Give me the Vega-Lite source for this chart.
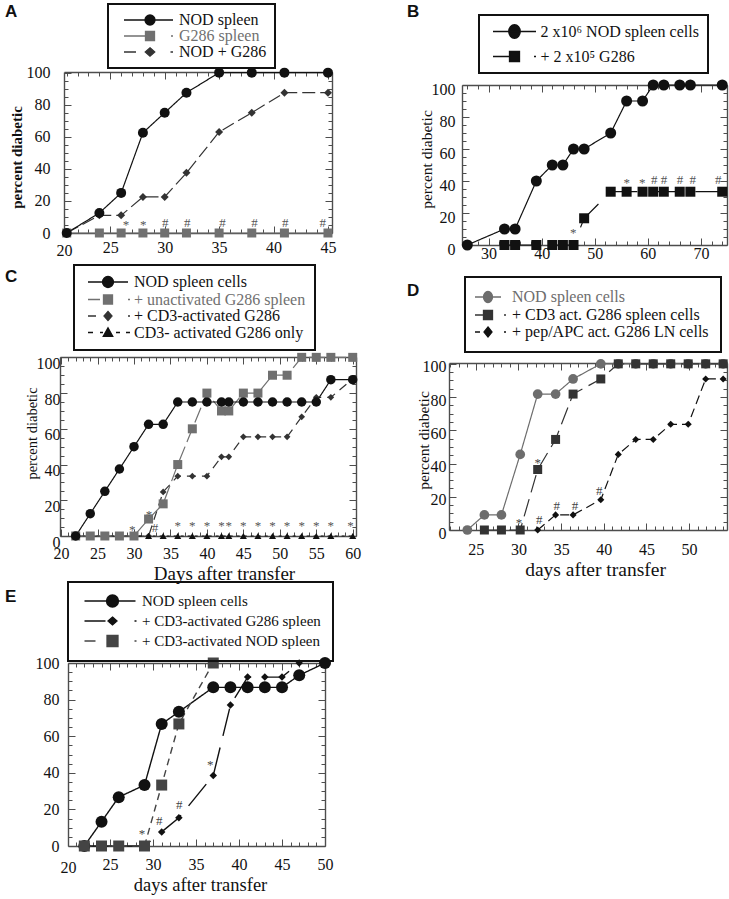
{
"$schema": "https://vega.github.io/schema/vega-lite/v6.json",
"autosize": "none",
"padding": {"left": 60, "top": 72, "right": 669, "bottom": 827},
"background": "white",
"config": {
 "view": {"stroke": null},
 "font": "Liberation Serif",
 "axis": {"grid": false, "labelFont": "Liberation Serif", "labelFontSize": 16, "labelColor": "#111", "domainColor": "#4d4d4d", "domainWidth": 1.4, "tickColor": "#4d4d4d", "tickWidth": 1, "titleFont": "Liberation Serif", "titleFontWeight": "normal", "titleColor": "#111", "labelOverlap": false, "labelFlush": false},
 "legend": {"labelFont": "Liberation Serif", "strokeWidth": 2},
 "text": {"font": "Liberation Serif"}
},
"resolve": {"scale": {"color": "independent", "shape": "independent", "strokeDash": "independent", "size": "independent", "fill": "independent", "stroke": "independent"}, "legend": {"shape": "independent", "color": "independent", "size": "independent", "strokeDash": "independent", "fill": "independent", "stroke": "independent"}},
"datasets": {
 "A": [
  {"series": "G286 spleen", "day": 21, "pct": 0}, {"series": "G286 spleen", "day": 24, "pct": 0}, {"series": "G286 spleen", "day": 26, "pct": 0}, {"series": "G286 spleen", "day": 28, "pct": 0}, {"series": "G286 spleen", "day": 30, "pct": 0}, {"series": "G286 spleen", "day": 32, "pct": 0}, {"series": "G286 spleen", "day": 35, "pct": 0}, {"series": "G286 spleen", "day": 38, "pct": 0}, {"series": "G286 spleen", "day": 41, "pct": 0}, {"series": "G286 spleen", "day": 45, "pct": 0},
  {"series": "NOD + G286", "day": 21, "pct": 0}, {"series": "NOD + G286", "day": 24, "pct": 11}, {"series": "NOD + G286", "day": 26, "pct": 11}, {"series": "NOD + G286", "day": 28, "pct": 22.5}, {"series": "NOD + G286", "day": 30, "pct": 22.5}, {"series": "NOD + G286", "day": 32, "pct": 37.5}, {"series": "NOD + G286", "day": 35, "pct": 63}, {"series": "NOD + G286", "day": 38, "pct": 75}, {"series": "NOD + G286", "day": 41, "pct": 87.5}, {"series": "NOD + G286", "day": 45, "pct": 87.5},
  {"series": "NOD spleen", "day": 21, "pct": 0}, {"series": "NOD spleen", "day": 24, "pct": 12.5}, {"series": "NOD spleen", "day": 26, "pct": 25}, {"series": "NOD spleen", "day": 28, "pct": 62.5}, {"series": "NOD spleen", "day": 30, "pct": 75}, {"series": "NOD spleen", "day": 32, "pct": 87.5}, {"series": "NOD spleen", "day": 35, "pct": 100}, {"series": "NOD spleen", "day": 38, "pct": 100}, {"series": "NOD spleen", "day": 41, "pct": 100}, {"series": "NOD spleen", "day": 45, "pct": 100}
 ],
 "Aann": [
  {"day": 26.44, "pct": 5, "mk": "*"}, {"day": 28.03, "pct": 5, "mk": "*"}, {"day": 30.06, "pct": 6.3, "mk": "#"}, {"day": 32.08, "pct": 6.3, "mk": "#"}, {"day": 35.3, "pct": 6.3, "mk": "#"}, {"day": 38.26, "pct": 6.3, "mk": "#"}, {"day": 41.08, "pct": 6.3, "mk": "#"}, {"day": 44.53, "pct": 6.3, "mk": "#"}
 ],
 "B": [
  {"series": "2 x10⁶ NOD spleen cells", "day": 26, "pct": 0}, {"series": "2 x10⁶ NOD spleen cells", "day": 33, "pct": 10}, {"series": "2 x10⁶ NOD spleen cells", "day": 35, "pct": 10}, {"series": "2 x10⁶ NOD spleen cells", "day": 39, "pct": 40}, {"series": "2 x10⁶ NOD spleen cells", "day": 42, "pct": 50}, {"series": "2 x10⁶ NOD spleen cells", "day": 44, "pct": 50}, {"series": "2 x10⁶ NOD spleen cells", "day": 46, "pct": 60}, {"series": "2 x10⁶ NOD spleen cells", "day": 48, "pct": 60}, {"series": "2 x10⁶ NOD spleen cells", "day": 53, "pct": 70}, {"series": "2 x10⁶ NOD spleen cells", "day": 56, "pct": 90}, {"series": "2 x10⁶ NOD spleen cells", "day": 59, "pct": 90}, {"series": "2 x10⁶ NOD spleen cells", "day": 61, "pct": 100}, {"series": "2 x10⁶ NOD spleen cells", "day": 63, "pct": 100}, {"series": "2 x10⁶ NOD spleen cells", "day": 66, "pct": 100}, {"series": "2 x10⁶ NOD spleen cells", "day": 68, "pct": 100}, {"series": "2 x10⁶ NOD spleen cells", "day": 74, "pct": 100},
  {"series": "+ 2 x10⁵ G286", "day": 33, "pct": 0}, {"series": "+ 2 x10⁵ G286", "day": 35, "pct": 0}, {"series": "+ 2 x10⁵ G286", "day": 39, "pct": 0}, {"series": "+ 2 x10⁵ G286", "day": 42, "pct": 0}, {"series": "+ 2 x10⁵ G286", "day": 44, "pct": 0}, {"series": "+ 2 x10⁵ G286", "day": 46, "pct": 0}, {"series": "+ 2 x10⁵ G286", "day": 48, "pct": 16.7}, {"series": "+ 2 x10⁵ G286", "day": 53, "pct": 33.3}, {"series": "+ 2 x10⁵ G286", "day": 56, "pct": 33.3}, {"series": "+ 2 x10⁵ G286", "day": 59, "pct": 33.3}, {"series": "+ 2 x10⁵ G286", "day": 61, "pct": 33.3}, {"series": "+ 2 x10⁵ G286", "day": 63, "pct": 33.3}, {"series": "+ 2 x10⁵ G286", "day": 66, "pct": 33.3}, {"series": "+ 2 x10⁵ G286", "day": 68, "pct": 33.3}, {"series": "+ 2 x10⁵ G286", "day": 74, "pct": 33.3}
 ],
 "Bann": [
  {"day": 45.95, "pct": 7.5, "mk": "*"}, {"day": 56, "pct": 38.5, "mk": "*"}, {"day": 58.94, "pct": 38.5, "mk": "*"}, {"day": 61.2, "pct": 40.6, "mk": "#"}, {"day": 63.03, "pct": 40.6, "mk": "#"}, {"day": 66.04, "pct": 40.6, "mk": "#"}, {"day": 68.43, "pct": 40.6, "mk": "#"}, {"day": 73.25, "pct": 40.6, "mk": "#"}
 ],
 "C": [
  {"series": "+ CD3-activated G286", "day": 22, "pct": 0}, {"series": "+ CD3-activated G286", "day": 24, "pct": 0}, {"series": "+ CD3-activated G286", "day": 26, "pct": 0}, {"series": "+ CD3-activated G286", "day": 28, "pct": 0}, {"series": "+ CD3-activated G286", "day": 30, "pct": 0}, {"series": "+ CD3-activated G286", "day": 32, "pct": 0}, {"series": "+ CD3-activated G286", "day": 34, "pct": 24.7}, {"series": "+ CD3-activated G286", "day": 36, "pct": 33.5}, {"series": "+ CD3-activated G286", "day": 38, "pct": 33.5}, {"series": "+ CD3-activated G286", "day": 40, "pct": 33.5}, {"series": "+ CD3-activated G286", "day": 42, "pct": 44.3}, {"series": "+ CD3-activated G286", "day": 43, "pct": 44.3}, {"series": "+ CD3-activated G286", "day": 45, "pct": 55.5}, {"series": "+ CD3-activated G286", "day": 47, "pct": 55.5}, {"series": "+ CD3-activated G286", "day": 49, "pct": 55.5}, {"series": "+ CD3-activated G286", "day": 51, "pct": 55.5}, {"series": "+ CD3-activated G286", "day": 53, "pct": 66.7}, {"series": "+ CD3-activated G286", "day": 55, "pct": 77.6}, {"series": "+ CD3-activated G286", "day": 57, "pct": 77.6}, {"series": "+ CD3-activated G286", "day": 60, "pct": 88},
  {"series": "CD3- activated G286 only", "day": 22, "pct": 0}, {"series": "CD3- activated G286 only", "day": 24, "pct": 0}, {"series": "CD3- activated G286 only", "day": 26, "pct": 0}, {"series": "CD3- activated G286 only", "day": 28, "pct": 0}, {"series": "CD3- activated G286 only", "day": 30, "pct": 0}, {"series": "CD3- activated G286 only", "day": 32, "pct": 0}, {"series": "CD3- activated G286 only", "day": 34, "pct": 0}, {"series": "CD3- activated G286 only", "day": 36, "pct": 0}, {"series": "CD3- activated G286 only", "day": 38, "pct": 0}, {"series": "CD3- activated G286 only", "day": 40, "pct": 0}, {"series": "CD3- activated G286 only", "day": 42, "pct": 0}, {"series": "CD3- activated G286 only", "day": 43, "pct": 0}, {"series": "CD3- activated G286 only", "day": 45, "pct": 0}, {"series": "CD3- activated G286 only", "day": 47, "pct": 0}, {"series": "CD3- activated G286 only", "day": 49, "pct": 0}, {"series": "CD3- activated G286 only", "day": 51, "pct": 0}, {"series": "CD3- activated G286 only", "day": 53, "pct": 0}, {"series": "CD3- activated G286 only", "day": 55, "pct": 0}, {"series": "CD3- activated G286 only", "day": 57, "pct": 0}, {"series": "CD3- activated G286 only", "day": 60, "pct": 0},
  {"series": "+ unactivated G286 spleen", "day": 22, "pct": 0}, {"series": "+ unactivated G286 spleen", "day": 24, "pct": 0}, {"series": "+ unactivated G286 spleen", "day": 26, "pct": 0}, {"series": "+ unactivated G286 spleen", "day": 28, "pct": 0}, {"series": "+ unactivated G286 spleen", "day": 30, "pct": 0}, {"series": "+ unactivated G286 spleen", "day": 32, "pct": 9.5}, {"series": "+ unactivated G286 spleen", "day": 34, "pct": 18}, {"series": "+ unactivated G286 spleen", "day": 36, "pct": 40}, {"series": "+ unactivated G286 spleen", "day": 38, "pct": 60}, {"series": "+ unactivated G286 spleen", "day": 40, "pct": 80}, {"series": "+ unactivated G286 spleen", "day": 42, "pct": 70}, {"series": "+ unactivated G286 spleen", "day": 43, "pct": 70}, {"series": "+ unactivated G286 spleen", "day": 45, "pct": 80}, {"series": "+ unactivated G286 spleen", "day": 47, "pct": 80}, {"series": "+ unactivated G286 spleen", "day": 49, "pct": 90}, {"series": "+ unactivated G286 spleen", "day": 51, "pct": 90}, {"series": "+ unactivated G286 spleen", "day": 53, "pct": 100}, {"series": "+ unactivated G286 spleen", "day": 55, "pct": 100}, {"series": "+ unactivated G286 spleen", "day": 57, "pct": 100}, {"series": "+ unactivated G286 spleen", "day": 60, "pct": 100},
  {"series": "NOD spleen cells", "day": 22, "pct": 0}, {"series": "NOD spleen cells", "day": 24, "pct": 12.5}, {"series": "NOD spleen cells", "day": 26, "pct": 25}, {"series": "NOD spleen cells", "day": 28, "pct": 37.5}, {"series": "NOD spleen cells", "day": 30, "pct": 50}, {"series": "NOD spleen cells", "day": 32, "pct": 62.5}, {"series": "NOD spleen cells", "day": 34, "pct": 62.5}, {"series": "NOD spleen cells", "day": 36, "pct": 75}, {"series": "NOD spleen cells", "day": 38, "pct": 75}, {"series": "NOD spleen cells", "day": 40, "pct": 75}, {"series": "NOD spleen cells", "day": 42, "pct": 75}, {"series": "NOD spleen cells", "day": 43, "pct": 75}, {"series": "NOD spleen cells", "day": 45, "pct": 75}, {"series": "NOD spleen cells", "day": 47, "pct": 75}, {"series": "NOD spleen cells", "day": 49, "pct": 75}, {"series": "NOD spleen cells", "day": 51, "pct": 75}, {"series": "NOD spleen cells", "day": 53, "pct": 75}, {"series": "NOD spleen cells", "day": 55, "pct": 75}, {"series": "NOD spleen cells", "day": 57, "pct": 87.5}, {"series": "NOD spleen cells", "day": 60, "pct": 87.5}
 ],
 "Cann": [
  {"day": 29.76, "pct": 3.5, "mk": "*"}, {"day": 32.05, "pct": 11.9, "mk": "*"}, {"day": 32.88, "pct": 4.3, "mk": "#"},
  {"day": 36, "pct": 5.4, "mk": "*"}, {"day": 38, "pct": 5.4, "mk": "*"}, {"day": 40, "pct": 5.4, "mk": "*"}, {"day": 42, "pct": 5.4, "mk": "*"}, {"day": 43, "pct": 5.4, "mk": "*"}, {"day": 45, "pct": 5.4, "mk": "*"}, {"day": 47, "pct": 5.4, "mk": "*"}, {"day": 49, "pct": 5.4, "mk": "*"}, {"day": 51, "pct": 5.4, "mk": "*"}, {"day": 53, "pct": 5.4, "mk": "*"}, {"day": 55, "pct": 5.4, "mk": "*"}, {"day": 57, "pct": 5.4, "mk": "*"}, {"day": 59.7, "pct": 5.4, "mk": "*"}
 ],
 "D": [
  {"series": "NOD spleen cells", "day": 24, "pct": 0}, {"series": "NOD spleen cells", "day": 26, "pct": 9.1}, {"series": "NOD spleen cells", "day": 28, "pct": 9.1}, {"series": "NOD spleen cells", "day": 30.2, "pct": 45.5}, {"series": "NOD spleen cells", "day": 32.25, "pct": 81.8}, {"series": "NOD spleen cells", "day": 34.35, "pct": 81.8}, {"series": "NOD spleen cells", "day": 36.4, "pct": 90.9}, {"series": "NOD spleen cells", "day": 39.65, "pct": 100}, {"series": "NOD spleen cells", "day": 41.7, "pct": 100}, {"series": "NOD spleen cells", "day": 43.75, "pct": 100}, {"series": "NOD spleen cells", "day": 45.8, "pct": 100}, {"series": "NOD spleen cells", "day": 47.85, "pct": 100}, {"series": "NOD spleen cells", "day": 49.9, "pct": 100}, {"series": "NOD spleen cells", "day": 51.95, "pct": 100}, {"series": "NOD spleen cells", "day": 54, "pct": 100},
  {"series": "+ CD3 act. G286 spleen cells", "day": 26, "pct": 0}, {"series": "+ CD3 act. G286 spleen cells", "day": 28, "pct": 0}, {"series": "+ CD3 act. G286 spleen cells", "day": 30.2, "pct": 0}, {"series": "+ CD3 act. G286 spleen cells", "day": 32.25, "pct": 36.4}, {"series": "+ CD3 act. G286 spleen cells", "day": 34.35, "pct": 54.5}, {"series": "+ CD3 act. G286 spleen cells", "day": 36.4, "pct": 81.8}, {"series": "+ CD3 act. G286 spleen cells", "day": 39.65, "pct": 90.9}, {"series": "+ CD3 act. G286 spleen cells", "day": 41.7, "pct": 100}, {"series": "+ CD3 act. G286 spleen cells", "day": 43.75, "pct": 100}, {"series": "+ CD3 act. G286 spleen cells", "day": 45.8, "pct": 100}, {"series": "+ CD3 act. G286 spleen cells", "day": 47.85, "pct": 100}, {"series": "+ CD3 act. G286 spleen cells", "day": 49.9, "pct": 100}, {"series": "+ CD3 act. G286 spleen cells", "day": 51.95, "pct": 100}, {"series": "+ CD3 act. G286 spleen cells", "day": 54, "pct": 100},
  {"series": "+ pep/APC act. G286 LN cells", "day": 32.25, "pct": 0}, {"series": "+ pep/APC act. G286 LN cells", "day": 34.35, "pct": 9.1}, {"series": "+ pep/APC act. G286 LN cells", "day": 36.4, "pct": 9.1}, {"series": "+ pep/APC act. G286 LN cells", "day": 39.65, "pct": 18.2}, {"series": "+ pep/APC act. G286 LN cells", "day": 41.7, "pct": 45.5}, {"series": "+ pep/APC act. G286 LN cells", "day": 43.75, "pct": 54.5}, {"series": "+ pep/APC act. G286 LN cells", "day": 45.8, "pct": 54.5}, {"series": "+ pep/APC act. G286 LN cells", "day": 47.85, "pct": 63.6}, {"series": "+ pep/APC act. G286 LN cells", "day": 49.9, "pct": 63.6}, {"series": "+ pep/APC act. G286 LN cells", "day": 51.95, "pct": 90.9}, {"series": "+ pep/APC act. G286 LN cells", "day": 54, "pct": 90.9}
 ],
 "Dann": [
  {"day": 30.06, "pct": 4.5, "mk": "*"}, {"day": 32.25, "pct": 40.5, "mk": "*"}, {"day": 32.44, "pct": 6.2, "mk": "#"}, {"day": 34.48, "pct": 14.2, "mk": "#"}, {"day": 36.63, "pct": 14.2, "mk": "#"}, {"day": 39.47, "pct": 23.6, "mk": "#"}
 ],
 "E": [
  {"series": "+ CD3-activated G286 spleen", "day": 22, "pct": 0}, {"series": "+ CD3-activated G286 spleen", "day": 24, "pct": 0}, {"series": "+ CD3-activated G286 spleen", "day": 26, "pct": 0}, {"series": "+ CD3-activated G286 spleen", "day": 29, "pct": 0}, {"series": "+ CD3-activated G286 spleen", "day": 31, "pct": 7.7}, {"series": "+ CD3-activated G286 spleen", "day": 33, "pct": 15.4}, {"series": "+ CD3-activated G286 spleen", "day": 37, "pct": 38.5}, {"series": "+ CD3-activated G286 spleen", "day": 39, "pct": 77}, {"series": "+ CD3-activated G286 spleen", "day": 41, "pct": 92.3}, {"series": "+ CD3-activated G286 spleen", "day": 43, "pct": 92.3}, {"series": "+ CD3-activated G286 spleen", "day": 45, "pct": 92.3}, {"series": "+ CD3-activated G286 spleen", "day": 47, "pct": 100},
  {"series": "NOD spleen cells", "day": 22, "pct": 0}, {"series": "NOD spleen cells", "day": 24, "pct": 13.3}, {"series": "NOD spleen cells", "day": 26, "pct": 26.7}, {"series": "NOD spleen cells", "day": 29, "pct": 33.3}, {"series": "NOD spleen cells", "day": 31, "pct": 66.7}, {"series": "NOD spleen cells", "day": 33, "pct": 73.3}, {"series": "NOD spleen cells", "day": 37, "pct": 86.7}, {"series": "NOD spleen cells", "day": 39, "pct": 86.7}, {"series": "NOD spleen cells", "day": 41, "pct": 86.7}, {"series": "NOD spleen cells", "day": 43, "pct": 86.7}, {"series": "NOD spleen cells", "day": 45, "pct": 86.7}, {"series": "NOD spleen cells", "day": 47, "pct": 93.3}, {"series": "NOD spleen cells", "day": 50, "pct": 100},
  {"series": "+ CD3-activated NOD spleen", "day": 22, "pct": 0}, {"series": "+ CD3-activated NOD spleen", "day": 24, "pct": 0}, {"series": "+ CD3-activated NOD spleen", "day": 26, "pct": 0}, {"series": "+ CD3-activated NOD spleen", "day": 29, "pct": 0}, {"series": "+ CD3-activated NOD spleen", "day": 31, "pct": 33.3}, {"series": "+ CD3-activated NOD spleen", "day": 33, "pct": 66.7}, {"series": "+ CD3-activated NOD spleen", "day": 37, "pct": 100}
 ],
 "Eann": [
  {"day": 28.7, "pct": 6.3, "mk": "*"}, {"day": 30.71, "pct": 13.4, "mk": "#"}, {"day": 33.04, "pct": 22.6, "mk": "#"}, {"day": 36.64, "pct": 44.2, "mk": "*"}
 ]
},
"columns": 2,
"spacing": {"row": 112, "column": 93},
"bounds": "flush",
"align": "each",
"concat": [
 {
  "width": 272, "height": 161,
  "title": {"text": "A", "anchor": "start", "frame": "group", "dx": -55, "offset": -31, "baseline": "alphabetic", "font": "Liberation Sans", "fontSize": 17, "fontWeight": "bold", "color": "#111"},
  "resolve": {"axis": {"x": "independent", "y": "independent"}},
  "layer": [
   {"data": {"name": "A"}, "mark": {"type": "line", "strokeWidth": 1.2},
    "encoding": {
     "x": {"field": "day", "type": "quantitative", "scale": {"domain": [20.75, 45.37], "range": [4, 272], "nice": false, "zero": false},
      "axis": {"orient": "bottom", "values": [20.75,21,22,23,24,25,26,27,28,29,30,31,32,33,34,35,36,37,38,39,40,41,42,43,44,45], "labelExpr": "datum.value === 20.75 ? '20' : (datum.value % 5 === 0 ? datum.label : '')", "tickSize": {"condition": {"test": "datum.value % 5 === 0", "value": -7}, "value": -4}, "tickOpacity": {"condition": {"test": "datum.value < 20.8", "value": 0}, "value": 1}, "labelPadding": 13, "labelFont": "Liberation Serif", "title": null}},
     "y": {"field": "pct", "type": "quantitative", "scale": {"domain": [0, 100.4], "range": [161, 0], "nice": false, "zero": false},
      "axis": {"orient": "left", "offset": -4, "values": [0,5,10,15,20,25,30,35,40,45,50,55,60,65,70,75,80,85,90,95,100], "labelExpr": "datum.value % 20 === 0 ? datum.label : ''", "tickSize": {"condition": {"test": "datum.value % 20 === 0", "value": -7}, "value": -4}, "labelPadding": 21, "labelFont": "Liberation Serif", "title": "percent diabetic", "titleFont": "Liberation Serif", "titleFontWeight": "bold", "titleFontSize": 15, "titlePadding": 2, "titleY": 85}},
     "color": {"field": "series", "type": "nominal", "scale": {"domain": ["NOD + G286", "G286 spleen", "NOD spleen"], "range": ["#333333", "#707070", "#111111"]}, "legend": null},
     "strokeDash": {"field": "series", "type": "nominal", "scale": {"domain": ["NOD + G286", "G286 spleen", "NOD spleen"], "range": [[13,5],[1,0],[1,0]]}, "legend": null}
    }},
   {"data": {"name": "A"}, "transform": [{"filter": {"field": "series", "equal": "G286 spleen"}}], "mark": {"type": "point", "filled": true, "opacity": 1, "shape": "square", "size": 81, "color": "#707070"},
    "encoding": {
     "x": {"field": "day", "type": "quantitative", "scale": {"domain": [20.75, 45.37], "range": [4, 272], "nice": false, "zero": false},
      "axis": {"orient": "top", "values": [21,22,23,24,25,26,27,28,29,30,31,32,33,34,35,36,37,38,39,40,41,42,43,44,45], "labels": false, "tickSize": {"condition": {"test": "datum.value % 5 === 0", "value": -7}, "value": -4}, "title": null}},
     "y": {"field": "pct", "type": "quantitative", "scale": {"domain": [0, 100.4], "range": [161, 0], "nice": false, "zero": false},
      "axis": {"orient": "right", "values": [0,5,10,15,20,25,30,35,40,45,50,55,60,65,70,75,80,85,90,95,100], "labels": false, "tickSize": {"condition": {"test": "datum.value % 20 === 0", "value": -7}, "value": -4}, "title": null}}
    }},
   {"data": {"name": "A"}, "transform": [{"filter": {"field": "series", "equal": "NOD + G286"}}], "mark": {"type": "point", "filled": true, "opacity": 1, "shape": "diamond", "size": 64, "color": "#333333"},
    "encoding": {
     "x": {"field": "day", "type": "quantitative", "scale": {"domain": [20.75, 45.37], "range": [4, 272], "nice": false, "zero": false}, "axis": null},
     "y": {"field": "pct", "type": "quantitative", "scale": {"domain": [0, 100.4], "range": [161, 0], "nice": false, "zero": false}, "axis": null}
    }},
   {"data": {"name": "A"}, "transform": [{"filter": {"field": "series", "equal": "NOD spleen"}}], "mark": {"type": "point", "filled": true, "opacity": 1, "shape": "circle", "size": 100, "color": "#111111"},
    "encoding": {
     "x": {"field": "day", "type": "quantitative", "scale": {"domain": [20.75, 45.37], "range": [4, 272], "nice": false, "zero": false}, "axis": null},
     "y": {"field": "pct", "type": "quantitative", "scale": {"domain": [0, 100.4], "range": [161, 0], "nice": false, "zero": false}, "axis": null}
    }},
   {"data": {"name": "Aann"}, "mark": {"type": "text", "font": "Liberation Serif", "fontSize": 13, "fill": "#555555", "baseline": "middle"},
    "encoding": {
     "x": {"field": "day", "type": "quantitative", "scale": {"domain": [20.75, 45.37], "range": [4, 272], "nice": false, "zero": false}, "axis": null},
     "y": {"field": "pct", "type": "quantitative", "scale": {"domain": [0, 100.4], "range": [161, 0], "nice": false, "zero": false}, "axis": null},
     "text": {"field": "mk"}
    }},
   {"data": {"name": "A"}, "transform": [{"filter": {"field": "series", "equal": "none"}}], "mark": {"type": "point", "filled": true, "opacity": 1, "size": 100},
    "encoding": {
     "shape": {"field": "series", "type": "nominal", "scale": {"domain": ["NOD spleen", "G286 spleen", "NOD + G286"], "range": ["M-5.2,0H4.6M1,0A1,1,0,1,1,-1,0A1,1,0,1,1,1,0Z", "M-5.2,0H-0.9M4.2,0H4.6M-0.9,-0.9H0.9V0.9H-0.9Z", "M-5.2,0H-2.8M4.1,0H4.6M0,-0.85L0.95,0L0,0.85L-0.95,0Z"]},
      "legend": {"orient": "none", "legendX": 48, "legendY": -68, "title": null, "padding": 8, "strokeColor": "#111111", "symbolOffset": 26, "labelOffset": 21, "labelFont": "Liberation Serif", "labelFontSize": 16, "rowPadding": -1, "symbolSize": 100, "symbolStrokeWidth": 1.3, "symbolOpacity": 1, "labelLimit": 400, "labelExpr": "datum.label + '\u00a0\u00a0\u00a0'", "labelColor": {"expr": "datum.value === 'G286 spleen' ? '#707070' : '#111111'"}}},
     "fill": {"field": "series", "type": "nominal", "scale": {"domain": ["NOD spleen", "G286 spleen", "NOD + G286"], "range": ["#111111", "#707070", "#333333"]}},
     "stroke": {"field": "series", "type": "nominal", "scale": {"domain": ["NOD spleen", "G286 spleen", "NOD + G286"], "range": ["#111111", "#707070", "#333333"]}}
    }}
  ]
 },
 {
  "width": 278, "height": 173,
  "title": {"text": "B", "anchor": "start", "frame": "group", "dx": -42, "offset": -20, "baseline": "alphabetic", "font": "Liberation Sans", "fontSize": 17, "fontWeight": "bold", "color": "#111"},
  "resolve": {"axis": {"x": "independent", "y": "independent"}},
  "layer": [
   {"data": {"name": "B"}, "mark": {"type": "line", "strokeWidth": 1.2},
    "encoding": {
     "x": {"field": "day", "type": "quantitative", "scale": {"domain": [25, 74.9], "range": [13, 278], "nice": false, "zero": false},
      "axis": {"orient": "bottom", "values": [26,28,30,32,34,36,38,40,42,44,46,48,50,52,54,56,58,60,62,64,66,68,70,72,74], "labelExpr": "datum.value % 10 === 0 ? datum.label : ''", "tickSize": {"condition": {"test": "datum.value % 10 === 0", "value": -7}, "value": -4}, "labelPadding": 7, "labelFont": "Liberation Serif", "title": null}},
     "y": {"field": "pct", "type": "quantitative", "scale": {"domain": [0, 100], "range": [173, 13], "nice": false, "zero": false},
      "axis": {"orient": "left", "offset": -13, "values": [0,5,10,15,20,25,30,35,40,45,50,55,60,65,70,75,80,85,90,95,100], "labelExpr": "datum.value % 20 === 0 ? datum.label : ''", "tickSize": {"condition": {"test": "datum.value % 20 === 0", "value": -7}, "value": -4}, "labelPadding": 14, "labelOffset": 4, "labelFont": "Liberation Serif", "title": "percent diabetic", "titleFont": "Liberation Serif", "titleFontSize": 15.5, "titlePadding": -3, "titleY": 87}},
     "color": {"field": "series", "type": "nominal", "scale": {"domain": ["+ 2 x10⁵ G286", "2 x10⁶ NOD spleen cells"], "range": ["#111111", "#111111"]}, "legend": null},
     "strokeDash": {"field": "series", "type": "nominal", "scale": {"domain": ["+ 2 x10⁵ G286", "2 x10⁶ NOD spleen cells"], "range": [[30,14],[1,0]]}, "legend": null}
    }},
   {"data": {"name": "B"}, "transform": [{"filter": {"field": "series", "equal": "2 x10⁶ NOD spleen cells"}}], "mark": {"type": "point", "filled": true, "opacity": 1, "shape": "circle", "size": 121, "color": "#111111"},
    "encoding": {
     "x": {"field": "day", "type": "quantitative", "scale": {"domain": [25, 74.9], "range": [13, 278], "nice": false, "zero": false},
      "axis": {"orient": "top", "offset": -13, "values": [26,28,30,32,34,36,38,40,42,44,46,48,50,52,54,56,58,60,62,64,66,68,70,72,74], "labels": false, "tickSize": {"condition": {"test": "datum.value % 10 === 0", "value": -7}, "value": -4}, "title": null}},
     "y": {"field": "pct", "type": "quantitative", "scale": {"domain": [0, 100], "range": [173, 13], "nice": false, "zero": false},
      "axis": {"orient": "right", "values": [0,5,10,15,20,25,30,35,40,45,50,55,60,65,70,75,80,85,90,95,100], "labels": false, "tickSize": {"condition": {"test": "datum.value % 20 === 0", "value": -7}, "value": -4}, "title": null}}
    }},
   {"data": {"name": "B"}, "transform": [{"filter": {"field": "series", "equal": "+ 2 x10⁵ G286"}}], "mark": {"type": "point", "filled": true, "opacity": 1, "shape": "square", "size": 100, "color": "#111111"},
    "encoding": {
     "x": {"field": "day", "type": "quantitative", "scale": {"domain": [25, 74.9], "range": [13, 278], "nice": false, "zero": false}, "axis": null},
     "y": {"field": "pct", "type": "quantitative", "scale": {"domain": [0, 100], "range": [173, 13], "nice": false, "zero": false}, "axis": null}
    }},
   {"data": {"name": "Bann"}, "mark": {"type": "text", "font": "Liberation Serif", "fontSize": 13, "fill": "#555555", "baseline": "middle"},
    "encoding": {
     "x": {"field": "day", "type": "quantitative", "scale": {"domain": [25, 74.9], "range": [13, 278], "nice": false, "zero": false}, "axis": null},
     "y": {"field": "pct", "type": "quantitative", "scale": {"domain": [0, 100], "range": [173, 13], "nice": false, "zero": false}, "axis": null},
     "text": {"field": "mk"}
    }},
   {"data": {"name": "B"}, "transform": [{"filter": {"field": "series", "equal": "none"}}], "mark": {"type": "point", "filled": true, "opacity": 1, "size": 100},
    "encoding": {
     "shape": {"field": "series", "type": "nominal", "scale": {"domain": ["2 x10⁶ NOD spleen cells", "+ 2 x10⁵ G286"], "range": ["M-4.3,0H4.3M1.15,0A1.15,1.35,0,1,1,-1.15,0A1.15,1.35,0,1,1,1.15,0Z", "M-4.3,0H-1M3.9,0H4.3M-1,-1H1V1H-1Z"]},
      "legend": {"orient": "none", "legendX": 30, "legendY": -57, "title": null, "padding": 8.5, "strokeColor": "#111111", "symbolOffset": 19, "labelOffset": 18, "labelFont": "Liberation Serif", "labelFontSize": 16, "rowPadding": 7, "symbolSize": 100, "symbolStrokeWidth": 1.3, "symbolOpacity": 1, "labelLimit": 400, "labelColor": "#111111", "labelExpr": "datum.label + '\u00a0\u00a0\u00a0\u00a0'"}},
     "fill": {"field": "series", "type": "nominal", "scale": {"domain": ["2 x10⁶ NOD spleen cells", "+ 2 x10⁵ G286"], "range": ["#111111", "#111111"]}},
     "stroke": {"field": "series", "type": "nominal", "scale": {"domain": ["2 x10⁶ NOD spleen cells", "+ 2 x10⁵ G286"], "range": ["#111111", "#111111"]}}
    }}
  ]
 },
 {
  "width": 296, "height": 179,
  "title": {"text": "C", "anchor": "start", "frame": "group", "dx": -55, "offset": -35, "baseline": "alphabetic", "font": "Liberation Sans", "fontSize": 17, "fontWeight": "bold", "color": "#111"},
  "resolve": {"axis": {"x": "independent", "y": "independent"}},
  "layer": [
   {"data": {"name": "C"}, "mark": {"type": "line", "strokeWidth": 1.2},
    "encoding": {
     "x": {"field": "day", "type": "quantitative", "scale": {"domain": [19.85, 60.45], "range": [0, 296], "nice": false, "zero": false},
      "axis": {"orient": "bottom", "values": [20,21,22,23,24,25,26,27,28,29,30,31,32,33,34,35,36,37,38,39,40,41,42,43,44,45,46,47,48,49,50,51,52,53,54,55,56,57,58,59,60], "labelExpr": "datum.value % 5 === 0 ? datum.label : ''", "tickSize": {"condition": {"test": "datum.value % 5 === 0", "value": -7}, "value": -4}, "labelPadding": 16, "labelFont": "Liberation Serif", "title": "Days after transfer", "titleFont": "Liberation Serif", "titleFontSize": 19, "titlePadding": 0, "titleX": 164}},
     "y": {"field": "pct", "type": "quantitative", "scale": {"domain": [0, 100.2], "range": [179, 0], "nice": false, "zero": false},
      "axis": {"orient": "left", "values": [0,5,10,15,20,25,30,35,40,45,50,55,60,65,70,75,80,85,90,95,100], "labelExpr": "datum.value % 20 === 0 ? datum.label : ''", "tickSize": {"condition": {"test": "datum.value % 20 === 0", "value": -7}, "value": -4}, "labelPadding": 7, "labelOffset": 6, "labelFont": "Liberation Serif", "title": "percent diabetic", "titleFont": "Liberation Serif", "titleFontSize": 14.5, "titlePadding": -3, "titleY": 76}},
     "color": {"field": "series", "type": "nominal", "scale": {"domain": ["CD3- activated G286 only", "+ CD3-activated G286", "+ unactivated G286 spleen", "NOD spleen cells"], "range": ["#111111", "#333333", "#707070", "#111111"]}, "legend": null},
     "strokeDash": {"field": "series", "type": "nominal", "scale": {"domain": ["CD3- activated G286 only", "+ CD3-activated G286", "+ unactivated G286 spleen", "NOD spleen cells"], "range": [[3,4],[9,6],[16,5],[1,0]]}, "legend": null}
    }},
   {"data": {"name": "C"}, "transform": [{"filter": {"field": "series", "equal": "+ CD3-activated G286"}}], "mark": {"type": "point", "filled": true, "opacity": 1, "shape": "diamond", "size": 45, "color": "#333333"},
    "encoding": {
     "x": {"field": "day", "type": "quantitative", "scale": {"domain": [19.85, 60.45], "range": [0, 296], "nice": false, "zero": false},
      "axis": {"orient": "top", "values": [20,21,22,23,24,25,26,27,28,29,30,31,32,33,34,35,36,37,38,39,40,41,42,43,44,45,46,47,48,49,50,51,52,53,54,55,56,57,58,59,60], "labels": false, "tickSize": {"condition": {"test": "datum.value % 5 === 0", "value": -7}, "value": -4}, "title": null}},
     "y": {"field": "pct", "type": "quantitative", "scale": {"domain": [0, 100.2], "range": [179, 0], "nice": false, "zero": false},
      "axis": {"orient": "right", "values": [0,5,10,15,20,25,30,35,40,45,50,55,60,65,70,75,80,85,90,95,100], "labels": false, "tickSize": {"condition": {"test": "datum.value % 20 === 0", "value": -7}, "value": -4}, "title": null}}
    }},
   {"data": {"name": "C"}, "transform": [{"filter": {"field": "series", "equal": "CD3- activated G286 only"}}], "mark": {"type": "point", "filled": true, "opacity": 1, "shape": "triangle-up", "size": 50, "color": "#111111"},
    "encoding": {
     "x": {"field": "day", "type": "quantitative", "scale": {"domain": [19.85, 60.45], "range": [0, 296], "nice": false, "zero": false}, "axis": null},
     "y": {"field": "pct", "type": "quantitative", "scale": {"domain": [0, 100.2], "range": [179, 0], "nice": false, "zero": false}, "axis": null}
    }},
   {"data": {"name": "C"}, "transform": [{"filter": {"field": "series", "equal": "+ unactivated G286 spleen"}}], "mark": {"type": "point", "filled": true, "opacity": 1, "shape": "square", "size": 81, "color": "#707070"},
    "encoding": {
     "x": {"field": "day", "type": "quantitative", "scale": {"domain": [19.85, 60.45], "range": [0, 296], "nice": false, "zero": false}, "axis": null},
     "y": {"field": "pct", "type": "quantitative", "scale": {"domain": [0, 100.2], "range": [179, 0], "nice": false, "zero": false}, "axis": null}
    }},
   {"data": {"name": "C"}, "transform": [{"filter": {"field": "series", "equal": "NOD spleen cells"}}], "mark": {"type": "point", "filled": true, "opacity": 1, "shape": "circle", "size": 90, "color": "#111111"},
    "encoding": {
     "x": {"field": "day", "type": "quantitative", "scale": {"domain": [19.85, 60.45], "range": [0, 296], "nice": false, "zero": false}, "axis": null},
     "y": {"field": "pct", "type": "quantitative", "scale": {"domain": [0, 100.2], "range": [179, 0], "nice": false, "zero": false}, "axis": null}
    }},
   {"data": {"name": "Cann"}, "mark": {"type": "text", "font": "Liberation Serif", "fontSize": 13, "fill": "#555555", "baseline": "middle"},
    "encoding": {
     "x": {"field": "day", "type": "quantitative", "scale": {"domain": [19.85, 60.45], "range": [0, 296], "nice": false, "zero": false}, "axis": null},
     "y": {"field": "pct", "type": "quantitative", "scale": {"domain": [0, 100.2], "range": [179, 0], "nice": false, "zero": false}, "axis": null},
     "text": {"field": "mk"}
    }},
   {"data": {"name": "C"}, "transform": [{"filter": {"field": "series", "equal": "none"}}], "mark": {"type": "point", "filled": true, "opacity": 1, "size": 100},
    "encoding": {
     "shape": {"field": "series", "type": "nominal", "scale": {"domain": ["NOD spleen cells", "+ unactivated G286 spleen", "+ CD3-activated G286", "CD3- activated G286 only"], "range": ["M-4,0H4M1.1,0A1.1,1.1,0,1,1,-1.1,0A1.1,1.1,0,1,1,1.1,0Z", "M-4,0H-1.6M4,0H4.4M-0.9,-0.9H0.9V0.9H-0.9Z", "M-4,0H-2.4M4,0H4.4M0,-0.9L0.8,0L0,0.9L-0.8,0Z", "M-4,0H-3M-1.6,0H-1M1.6,0H2.4M3.6,0H4.4M0,-0.95L0.95,0.75L-0.95,0.75Z"]},
      "legend": {"orient": "none", "legendX": 14, "legendY": -92, "title": null, "padding": 9, "strokeColor": "#111111", "symbolOffset": 17, "labelOffset": 18, "labelFont": "Liberation Serif", "labelFontSize": 16, "rowPadding": 0.5, "symbolSize": 100, "symbolStrokeWidth": 1.3, "symbolOpacity": 1, "labelLimit": 400, "labelExpr": "datum.label + '\u00a0\u00a0\u00a0\u00a0\u00a0\u00a0\u00a0\u00a0\u00a0\u00a0\u00a0\u00a0\u00a0\u00a0'", "labelColor": {"expr": "datum.value === '+ unactivated G286 spleen' ? '#707070' : '#111111'"}}},
     "fill": {"field": "series", "type": "nominal", "scale": {"domain": ["NOD spleen cells", "+ unactivated G286 spleen", "+ CD3-activated G286", "CD3- activated G286 only"], "range": ["#111111", "#707070", "#333333", "#111111"]}},
     "stroke": {"field": "series", "type": "nominal", "scale": {"domain": ["NOD spleen cells", "+ unactivated G286 spleen", "+ CD3-activated G286", "CD3- activated G286 only"], "range": ["#111111", "#707070", "#333333", "#111111"]}}
    }}
  ]
 },
 {
  "width": 278, "height": 173,
  "title": {"text": "D", "anchor": "start", "frame": "group", "dx": -42, "offset": -37, "baseline": "alphabetic", "font": "Liberation Sans", "fontSize": 17, "fontWeight": "bold", "color": "#111"},
  "resolve": {"axis": {"x": "independent", "y": "independent"}},
  "layer": [
   {"data": {"name": "D"}, "mark": {"type": "line", "strokeWidth": 1.2},
    "encoding": {
     "x": {"field": "day", "type": "quantitative", "scale": {"domain": [21.85, 54.45], "range": [0, 278], "nice": false, "zero": false},
      "axis": {"orient": "bottom", "values": [22,23,24,25,26,27,28,29,30,31,32,33,34,35,36,37,38,39,40,41,42,43,44,45,46,47,48,49,50,51,52,53,54], "labelExpr": "datum.value % 5 === 0 ? datum.label : ''", "tickSize": {"condition": {"test": "datum.value % 5 === 0", "value": -7}, "value": -4}, "labelPadding": 18, "labelFont": "Liberation Serif", "title": "days after transfer", "titleFont": "Liberation Serif", "titleFontSize": 19.5, "titlePadding": 0, "titleX": 146}},
     "y": {"field": "pct", "type": "quantitative", "scale": {"domain": [0, 100.5], "range": [173, 6], "nice": false, "zero": false},
      "axis": {"orient": "left", "values": [0,5,10,15,20,25,30,35,40,45,50,55,60,65,70,75,80,85,90,95,100], "labelExpr": "datum.value % 20 === 0 ? datum.label : ''", "tickSize": {"condition": {"test": "datum.value % 20 === 0", "value": -7}, "value": -4}, "labelPadding": 10, "labelOffset": 3, "labelFont": "Liberation Serif", "title": "percent diabetic", "titleFont": "Liberation Serif", "titleFontSize": 15.5, "titlePadding": -9, "titleY": 83}},
     "color": {"field": "series", "type": "nominal", "scale": {"domain": ["+ pep/APC act. G286 LN cells", "+ CD3 act. G286 spleen cells", "NOD spleen cells"], "range": ["#111111", "#333333", "#6d6d6d"]}, "legend": null},
     "strokeDash": {"field": "series", "type": "nominal", "scale": {"domain": ["+ pep/APC act. G286 LN cells", "+ CD3 act. G286 spleen cells", "NOD spleen cells"], "range": [[9,5],[18,7],[1,0]]}, "legend": null}
    }},
   {"data": {"name": "D"}, "transform": [{"filter": {"field": "series", "equal": "NOD spleen cells"}}], "mark": {"type": "point", "filled": true, "opacity": 1, "shape": "circle", "size": 95, "color": "#6d6d6d"},
    "encoding": {
     "x": {"field": "day", "type": "quantitative", "scale": {"domain": [21.85, 54.45], "range": [0, 278], "nice": false, "zero": false},
      "axis": {"orient": "top", "offset": -6, "values": [22,23,24,25,26,27,28,29,30,31,32,33,34,35,36,37,38,39,40,41,42,43,44,45,46,47,48,49,50,51,52,53,54], "labels": false, "tickSize": {"condition": {"test": "datum.value % 5 === 0", "value": -7}, "value": -4}, "title": null}},
     "y": {"field": "pct", "type": "quantitative", "scale": {"domain": [0, 100.5], "range": [173, 6], "nice": false, "zero": false},
      "axis": {"orient": "right", "values": [0,5,10,15,20,25,30,35,40,45,50,55,60,65,70,75,80,85,90,95,100], "labels": false, "tickSize": {"condition": {"test": "datum.value % 20 === 0", "value": -7}, "value": -4}, "title": null}}
    }},
   {"data": {"name": "D"}, "transform": [{"filter": {"field": "series", "equal": "+ CD3 act. G286 spleen cells"}}], "mark": {"type": "point", "filled": true, "opacity": 1, "shape": "square", "size": 81, "color": "#333333"},
    "encoding": {
     "x": {"field": "day", "type": "quantitative", "scale": {"domain": [21.85, 54.45], "range": [0, 278], "nice": false, "zero": false}, "axis": null},
     "y": {"field": "pct", "type": "quantitative", "scale": {"domain": [0, 100.5], "range": [173, 6], "nice": false, "zero": false}, "axis": null}
    }},
   {"data": {"name": "D"}, "transform": [{"filter": {"field": "series", "equal": "+ pep/APC act. G286 LN cells"}}], "mark": {"type": "point", "filled": true, "opacity": 1, "shape": "diamond", "size": 50, "color": "#111111"},
    "encoding": {
     "x": {"field": "day", "type": "quantitative", "scale": {"domain": [21.85, 54.45], "range": [0, 278], "nice": false, "zero": false}, "axis": null},
     "y": {"field": "pct", "type": "quantitative", "scale": {"domain": [0, 100.5], "range": [173, 6], "nice": false, "zero": false}, "axis": null}
    }},
   {"data": {"name": "Dann"}, "mark": {"type": "text", "font": "Liberation Serif", "fontSize": 13, "fill": "#444444", "baseline": "middle"},
    "encoding": {
     "x": {"field": "day", "type": "quantitative", "scale": {"domain": [21.85, 54.45], "range": [0, 278], "nice": false, "zero": false}, "axis": null},
     "y": {"field": "pct", "type": "quantitative", "scale": {"domain": [0, 100.5], "range": [173, 6], "nice": false, "zero": false}, "axis": null},
     "text": {"field": "mk"}
    }},
   {"data": {"name": "D"}, "transform": [{"filter": {"field": "series", "equal": "none"}}], "mark": {"type": "point", "filled": true, "opacity": 1, "size": 100},
    "encoding": {
     "shape": {"field": "series", "type": "nominal", "scale": {"domain": ["NOD spleen cells", "+ CD3 act. G286 spleen cells", "+ pep/APC act. G286 LN cells"], "range": ["M-2.6,0H2.6M0.9,0A0.9,1.1,0,1,1,-0.9,0A0.9,1.1,0,1,1,0.9,0Z", "M-2.6,0H-1M3.2,0H3.6M-0.9,-0.9H0.9V0.9H-0.9Z", "M-2.6,0H-1.6M3.2,0H3.6M0,-1L0.8,0L0,1L-0.8,0Z"]},
      "legend": {"orient": "none", "legendX": 16, "legendY": -80, "title": null, "padding": 12, "strokeColor": "#111111", "symbolOffset": 3, "labelOffset": 16, "labelFont": "Liberation Serif", "labelFontSize": 16, "rowPadding": 1, "symbolSize": 100, "symbolStrokeWidth": 1.3, "symbolOpacity": 1, "labelLimit": 400, "labelExpr": "datum.label + '\u00a0\u00a0'", "labelColor": {"expr": "datum.value === 'NOD spleen cells' ? '#6d6d6d' : '#111111'"}}},
     "fill": {"field": "series", "type": "nominal", "scale": {"domain": ["NOD spleen cells", "+ CD3 act. G286 spleen cells", "+ pep/APC act. G286 LN cells"], "range": ["#6d6d6d", "#333333", "#111111"]}},
     "stroke": {"field": "series", "type": "nominal", "scale": {"domain": ["NOD spleen cells", "+ CD3 act. G286 spleen cells", "+ pep/APC act. G286 LN cells"], "range": ["#6d6d6d", "#333333", "#111111"]}}
    }}
  ]
 },
 {
  "width": 265, "height": 198,
  "title": {"text": "E", "anchor": "start", "frame": "group", "dx": -55, "offset": -38, "baseline": "alphabetic", "font": "Liberation Sans", "fontSize": 17, "fontWeight": "bold", "color": "#111"},
  "resolve": {"axis": {"x": "independent", "y": "independent"}},
  "layer": [
   {"data": {"name": "E"}, "mark": {"type": "line", "strokeWidth": 1.4},
    "encoding": {
     "x": {"field": "day", "type": "quantitative", "scale": {"domain": [20.1, 50], "range": [8, 265], "nice": false, "zero": false},
      "axis": {"orient": "bottom", "values": [20.1,21,22,23,24,25,26,27,28,29,30,31,32,33,34,35,36,37,38,39,40,41,42,43,44,45,46,47,48,49,50], "labelExpr": "datum.value === 20.1 ? '20' : (datum.value % 5 === 0 ? datum.label : '')", "tickSize": {"condition": {"test": "datum.value % 5 === 0", "value": -7}, "value": -4}, "tickOpacity": {"condition": {"test": "datum.value < 20.5", "value": 0}, "value": 1}, "labelPadding": 17, "labelFont": "Liberation Serif", "title": "days after transfer", "titleFont": "Liberation Serif", "titleFontSize": 18.5, "titlePadding": 0, "titleX": 140}},
     "y": {"field": "pct", "type": "quantitative", "scale": {"domain": [0, 100], "range": [198, 15], "nice": false, "zero": false},
      "axis": {"orient": "left", "offset": -8, "values": [0,5,10,15,20,25,30,35,40,45,50,55,60,65,70,75,80,85,90,95,100], "labelExpr": "datum.value % 20 === 0 ? datum.label : ''", "tickSize": {"condition": {"test": "datum.value % 20 === 0", "value": -7}, "value": -4}, "labelPadding": 16, "labelFont": "Liberation Serif", "title": null}},
     "color": {"field": "series", "type": "nominal", "scale": {"domain": ["+ CD3-activated NOD spleen", "+ CD3-activated G286 spleen", "NOD spleen cells"], "range": ["#444444", "#111111", "#111111"]}, "legend": null},
     "strokeDash": {"field": "series", "type": "nominal", "scale": {"domain": ["+ CD3-activated NOD spleen", "+ CD3-activated G286 spleen", "NOD spleen cells"], "range": [[7,5],[28,12],[1,0]]}, "legend": null}
    }},
   {"data": {"name": "E"}, "transform": [{"filter": {"field": "series", "equal": "+ CD3-activated G286 spleen"}}], "mark": {"type": "point", "filled": true, "opacity": 1, "shape": "diamond", "size": 56, "color": "#111111"},
    "encoding": {
     "x": {"field": "day", "type": "quantitative", "scale": {"domain": [20.1, 50], "range": [8, 265], "nice": false, "zero": false},
      "axis": {"orient": "top", "offset": -15, "values": [21,22,23,24,25,26,27,28,29,30,31,32,33,34,35,36,37,38,39,40,41,42,43,44,45,46,47,48,49,50], "labels": false, "tickSize": {"condition": {"test": "datum.value % 5 === 0", "value": -7}, "value": -4}, "title": null}},
     "y": {"field": "pct", "type": "quantitative", "scale": {"domain": [0, 100], "range": [198, 15], "nice": false, "zero": false},
      "axis": {"orient": "right", "values": [0,5,10,15,20,25,30,35,40,45,50,55,60,65,70,75,80,85,90,95,100], "labels": false, "tickSize": {"condition": {"test": "datum.value % 20 === 0", "value": -7}, "value": -4}, "title": null}}
    }},
   {"data": {"name": "E"}, "transform": [{"filter": {"field": "series", "equal": "NOD spleen cells"}}], "mark": {"type": "point", "filled": true, "opacity": 1, "shape": "circle", "size": 144, "color": "#111111"},
    "encoding": {
     "x": {"field": "day", "type": "quantitative", "scale": {"domain": [20.1, 50], "range": [8, 265], "nice": false, "zero": false}, "axis": null},
     "y": {"field": "pct", "type": "quantitative", "scale": {"domain": [0, 100], "range": [198, 15], "nice": false, "zero": false}, "axis": null}
    }},
   {"data": {"name": "E"}, "transform": [{"filter": {"field": "series", "equal": "+ CD3-activated NOD spleen"}}], "mark": {"type": "point", "filled": true, "opacity": 1, "shape": "square", "size": 121, "color": "#444444"},
    "encoding": {
     "x": {"field": "day", "type": "quantitative", "scale": {"domain": [20.1, 50], "range": [8, 265], "nice": false, "zero": false}, "axis": null},
     "y": {"field": "pct", "type": "quantitative", "scale": {"domain": [0, 100], "range": [198, 15], "nice": false, "zero": false}, "axis": null}
    }},
   {"data": {"name": "Eann"}, "mark": {"type": "text", "font": "Liberation Serif", "fontSize": 13, "fill": "#444444", "baseline": "middle"},
    "encoding": {
     "x": {"field": "day", "type": "quantitative", "scale": {"domain": [20.1, 50], "range": [8, 265], "nice": false, "zero": false}, "axis": null},
     "y": {"field": "pct", "type": "quantitative", "scale": {"domain": [0, 100], "range": [198, 15], "nice": false, "zero": false}, "axis": null},
     "text": {"field": "mk"}
    }},
   {"data": {"name": "E"}, "transform": [{"filter": {"field": "series", "equal": "none"}}], "mark": {"type": "point", "filled": true, "opacity": 1, "size": 100},
    "encoding": {
     "shape": {"field": "series", "type": "nominal", "scale": {"domain": ["NOD spleen cells", "+ CD3-activated G286 spleen", "+ CD3-activated NOD spleen"], "range": ["M-5.6,0H4.6M1.2,0A1.2,1.2,0,1,1,-1.2,0A1.2,1.2,0,1,1,1.2,0Z", "M-5.6,0H-1.4M4.4,0H4.8M0,-0.8L0.9,0L0,0.8L-0.9,0Z", "M-5.6,0H-3.4M4.4,0H4.8M-1.1,-1.1H1.1V1.1H-1.1Z"]},
      "legend": {"orient": "none", "legendX": 8, "legendY": -66, "title": null, "padding": 11.5, "strokeColor": "#111111", "symbolOffset": 25.5, "labelOffset": 22, "labelFont": "Liberation Serif", "labelFontSize": 15, "rowPadding": 3, "symbolSize": 100, "symbolStrokeWidth": 1.3, "symbolOpacity": 1, "labelLimit": 400, "labelColor": "#111111"}},
     "fill": {"field": "series", "type": "nominal", "scale": {"domain": ["NOD spleen cells", "+ CD3-activated G286 spleen", "+ CD3-activated NOD spleen"], "range": ["#111111", "#111111", "#444444"]}},
     "stroke": {"field": "series", "type": "nominal", "scale": {"domain": ["NOD spleen cells", "+ CD3-activated G286 spleen", "+ CD3-activated NOD spleen"], "range": ["#111111", "#111111", "#444444"]}}
    }}
  ]
 }
]
}
